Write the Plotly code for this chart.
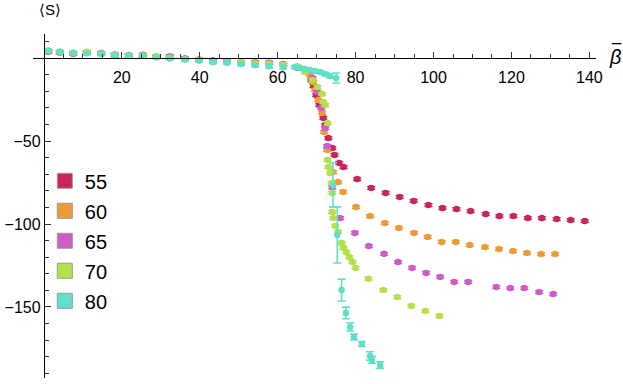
import plotly.graph_objects as go

# low-beta grid shared by all runs
B_LOW = [1.1, 4.1, 7.5, 11.0, 14.7, 18.2, 21.8, 25.4, 28.9, 32.3, 36.2, 39.8,
         43.4, 47.0, 50.6, 54.2, 57.8, 61.4, 65.0]

B55 = B_LOW + [68.6, 69.2, 69.9, 70.7, 71.7, 72.2, 73.0, 74.0, 74.6, 75.8, 76.9,
               80.4, 84.0, 87.7, 91.3, 94.9, 98.7, 102.3, 105.9, 109.5, 113.4,
               116.9, 120.5, 124.2, 127.8, 131.6, 135.2, 138.8]
S55 = [3.8, 3.4, 2.6, 3.2, 2.8, 1.6, 1.6, 1.8, 0.8, 1.0, -0.2, -0.8, -1.4, -2.0,
       -2.6, -2.8, -3.2, -3.8, -5.6,
       -13.3, -16.9, -22.3, -28.3, -36.1, -40.4, -48.2, -54.2, -58.4, -63.3, -65.7,
       -72.9, -78.3, -81.3, -83.7, -86.1, -88.6, -90.4, -91.0, -92.2, -94.0,
       -95.2, -95.2, -96.4, -96.4, -97.0, -97.6, -98.2]

B60 = B_LOW + [68.3, 69.1, 69.6, 70.4, 71.4, 71.9, 72.7, 74.2, 75.5, 76.8, 80.1,
               83.7, 87.5, 91.1, 95.0, 98.5, 102.1, 105.7, 109.3, 113.2, 116.8,
               120.4, 124.0, 127.6, 131.2]
S60 = [4.0, 3.2, 2.8, 3.4, 2.6, 2.0, 1.8, 2.0, 1.0, 0.6, -0.4, -1.0, -1.8, -2.2,
       -2.8, -2.4, -3.0, -4.0, -5.4,
       -10.2, -14.5, -19.3, -25.3, -33.1, -44.6, -55.4, -68.7, -74.7, -80.7, -89.8,
       -95.2, -99.4, -102.4, -105.4, -107.8, -110.8, -110.8, -112.7, -113.9,
       -115.1, -116.3, -117.5, -118.1, -118.1]

B65 = B_LOW + [68.9, 70.2, 71.2, 72.2, 72.7, 74.0, 76.0, 79.8, 83.4, 87.3, 90.9,
               94.5, 98.1, 101.7, 105.3, 108.9, 116.1, 119.7, 123.3, 127.1, 130.7]
S65 = [4.2, 3.6, 3.0, 3.6, 3.0, 2.2, 1.6, 1.6, 0.8, 0.4, -0.6, -1.2, -2.0, -2.6,
       -2.4, -2.8, -2.8, -3.6, -5.8,
       -12.0, -20.5, -30.1, -42.2, -53.0, -78.0, -96.4, -105.4, -113.3, -118.0,
       -122.9, -126.5, -129.5, -131.9, -134.9, -134.9, -137.9, -138.6, -138.6,
       -141.0, -142.2]

B70 = B_LOW + [67.0, 68.9, 70.2, 71.4, 71.7, 72.2, 72.8, 72.8, 73.0, 73.5, 73.8,
               74.0, 74.0, 74.3, 74.8, 75.5, 76.4, 76.9, 77.6, 78.4, 79.2, 80.0,
               83.3, 87.1, 90.7, 94.3, 97.9, 101.5]
S70 = [4.6, 3.8, 3.0, 3.8, 2.6, 2.0, 1.4, 1.4, 1.2, 0.2, -0.8, -1.0, -2.4, -2.2,
       -2.6, -3.2, -3.4, -4.0, -5.0,
       -8.4, -13.3, -17.5, -21.7, -26.5, -28.3, -39.2, -61.4, -65.7, -69.3, -75.3,
       -81.3, -92.8, -96.4, -101.2, -104.8, -111.4, -114.5, -116.9, -119.9,
       -122.9, -126.5, -133.0, -139.8, -144.0, -149.4, -152.4, -155.4]

B80 = B_LOW[:18] + [64.4, 65.7, 67.0, 68.3, 69.6, 70.9, 72.2, 73.4, 75.0, 74.2,
                    75.3, 76.4, 77.5, 78.6, 79.6, 81.6, 83.7, 84.2, 86.3]
S80 = [4.4, 3.8, 3.2, 2.8, 2.4, 1.6, 1.2, 1.2, 0.4, -0.2, -0.8, -1.6, -2.4, -2.6,
       -3.6, -4.4, -5.0, -5.6,
       -5.4, -6.0, -6.6, -7.2, -7.8, -8.4, -9.6, -10.8, -12.0, -76.5, -106.6,
       -139.8, -153.6, -162.0, -168.1, -172.3, -179.5, -181.9, -185.0]
E80_HIGH = [0.8, 0.8, 0.8, 0.8, 0.8, 0.8, 1.0, 1.2, 3.0, 13.3, 16.9, 6.6, 3.5,
            2.5, 1.8, 1.5, 2.5, 2.0, 2.0]

LABELS = ["55", "60", "65", "70", "80"]
COLORS = ["#C9245C", "#EC9B37", "#D05AC8", "#B4E14B", "#5FE1C8"]

series = [
    (B55, S55, [0.8] * len(B55)),
    (B60, S60, [0.8] * len(B60)),
    (B65, S65, [0.8] * len(B65)),
    (B70, S70, [0.8] * len(B70)),
    (B80, S80, [0.8] * 18 + E80_HIGH),
]

fig = go.Figure()

for (b, s, e), col in zip(series, COLORS):
    fig.add_trace(go.Scatter(
        x=b, y=s, mode="markers",
        marker=dict(color=col, size=6.5, line=dict(width=0)),
        error_y=dict(type="data", array=e, visible=True, color=col,
                     thickness=1.6, width=4),
        showlegend=False, hoverinfo="skip",
    ))

# legend swatches
for lab, col in zip(LABELS, COLORS):
    fig.add_trace(go.Scatter(
        x=[None], y=[None], mode="markers", name=lab, legendgroup=lab,
        marker=dict(symbol="square", color=col, size=15,
                    line=dict(color="#9a9a9a", width=1)),
    ))

XMIN, XMAX = -2.8, 141.7
YMIN, YMAX = -192.8, 14.5

fig.update_layout(
    width=623, height=384,
    margin=dict(l=33, r=27, t=34, b=6, autoexpand=False),
    plot_bgcolor="white", paper_bgcolor="white",
    font=dict(family="Liberation Sans, Arial, sans-serif", color="black", size=16),
    showlegend=True,
    legend=dict(x=0.021, y=0.630, xanchor="left", yanchor="top",
                font=dict(size=20), bgcolor="rgba(0,0,0,0)",
                tracegroupgap=1, itemsizing="trace"),
    xaxis=dict(
        range=[XMIN, XMAX], anchor="free", automargin=False,
        position=(0 - YMIN) / (YMAX - YMIN),
        showgrid=False, zeroline=False,
        showline=True, linecolor="black", linewidth=1.2,
        tickvals=[20, 40, 60, 80, 100, 120, 140],
        ticks="inside", ticklen=6, tickcolor="#333", tickwidth=1,
        ticklabelstandoff=5,
        minor=dict(tickvals=[5, 10, 15, 25, 30, 35, 45, 50, 55, 65, 70, 75, 85,
                             90, 95, 105, 110, 115, 125, 130, 135],
                   ticks="inside", ticklen=3.5, tickcolor="#333", tickwidth=1),
    ),
    yaxis=dict(
        range=[YMIN, YMAX], anchor="free", automargin=False,
        position=(0 - XMIN) / (XMAX - XMIN),
        showgrid=False, zeroline=False,
        showline=True, linecolor="black", linewidth=1.2,
        tickvals=[-150, -100, -50],
        ticktext=["\u2212150", "\u2212100", "\u221250"],
        ticks="inside", ticklen=6, tickcolor="#333", tickwidth=1,
        minor=dict(tickvals=[-190, -180, -170, -160, -140, -130, -120, -110,
                             -90, -80, -70, -60, -40, -30, -20, -10, 10],
                   ticks="inside", ticklen=3.5, tickcolor="#333", tickwidth=1),
    ),
    annotations=[
        dict(text="<i>\u03b2</i>", xref="paper", yref="paper",
             x=1.0337, y=0.933, showarrow=False, font=dict(size=20),
             xanchor="center", yanchor="middle"),
        dict(text="\u27e8S\u27e9", xref="paper", yref="paper",
             x=0.03, y=1.07, showarrow=False, font=dict(size=15),
             xanchor="center", yanchor="middle"),
    ],
    # bar over the beta of the axis label
    shapes=[dict(type="line", xref="paper", yref="paper",
                 x0=1.028, x1=1.045, y0=0.972, y1=0.972,
                 line=dict(color="black", width=1.3))],
)

# drop the browser's default 8px body margin so the figure fills the window
fig.write_html("out.html", config={"displayModeBar": False},
               post_script="document.body.style.margin='0';")
